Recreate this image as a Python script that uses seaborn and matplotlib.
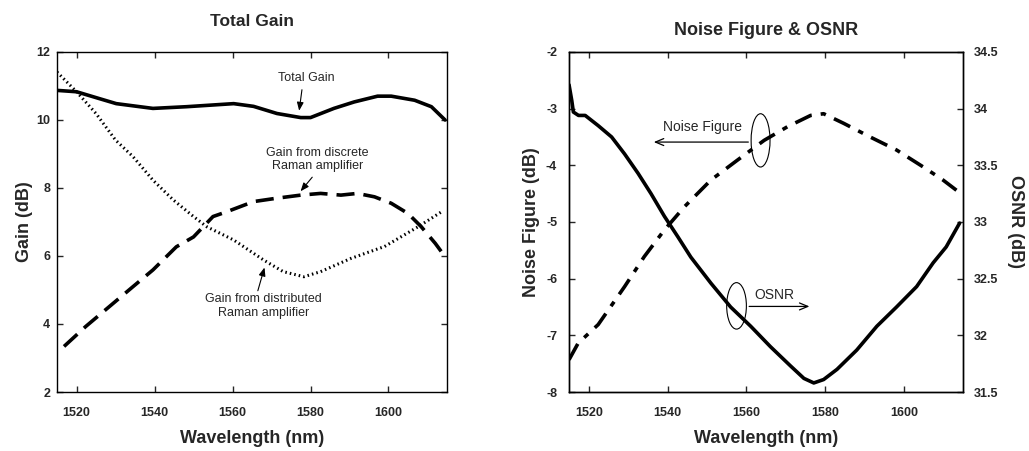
import numpy as np
import pandas as pd
import matplotlib
matplotlib.use("Agg")
import matplotlib.pyplot as plt
from matplotlib.patches import Ellipse
import seaborn as sns

# ---- Total gain panel ----
tg_wl = [1515, 1520, 1525.8, 1530.2, 1539.6, 1548.2, 1560.3, 1565.4, 1571.4,
         1577.5, 1580, 1586, 1591.2, 1597.2, 1600.7, 1606.7, 1611, 1614.5]
tg_gain = [10.87, 10.83, 10.63, 10.48, 10.34, 10.39, 10.48, 10.40, 10.19,
           10.07, 10.07, 10.34, 10.53, 10.70, 10.70, 10.58, 10.39, 10.0]

dist_wl = [1515, 1520, 1525, 1530, 1534.5, 1539.6, 1544.8, 1550, 1553.4, 1560.3,
           1568, 1573, 1578.3, 1582.6, 1590.4, 1599, 1607.6, 1613.6]
dist_gain = [11.41, 10.83, 10.19, 9.41, 8.92, 8.23, 7.65, 7.16, 6.86, 6.47,
             5.88, 5.54, 5.39, 5.54, 5.93, 6.28, 6.86, 7.30]

disc_wl = [1516.8, 1522.4, 1528.4, 1534.5, 1539.6, 1545.6, 1550, 1555, 1558.5,
           1565.4, 1571.4, 1577.5, 1582.6, 1587.8, 1592, 1596.4, 1600.7, 1605,
           1608.4, 1612, 1614.5]
disc_gain = [3.34, 3.93, 4.51, 5.10, 5.59, 6.27, 6.56, 7.16, 7.30, 7.60, 7.70,
             7.79, 7.84, 7.79, 7.84, 7.74, 7.55, 7.25, 6.86, 6.37, 5.98]

# ---- Noise figure & OSNR panel ----
nf_wl = [1515, 1517.3, 1522.4, 1529.1, 1534.1, 1539.2, 1544.3, 1551, 1557.7,
         1564.5, 1570.4, 1576.3, 1579.6, 1584.7, 1591.4, 1598.1, 1604.9, 1609.9,
         1613.3]
nf_db = [-7.43, -7.14, -6.81, -6.14, -5.61, -5.14, -4.73, -4.26, -3.91, -3.56,
         -3.32, -3.12, -3.09, -3.26, -3.50, -3.73, -4.03, -4.26, -4.44]

osnr_wl = [1515, 1515.7, 1516.1, 1517.4, 1519.1, 1522.4, 1525.8, 1529.1, 1532.5,
           1535.8, 1539.2, 1542.6, 1545.9, 1551, 1556, 1561.1, 1566.1, 1571.2,
           1574.6, 1577.1, 1579.6, 1583, 1588, 1593.1, 1598.1, 1603.2, 1607.4,
           1610.7, 1614.1]
osnr_db = [34.21, 34.07, 33.97, 33.94, 33.94, 33.85, 33.75, 33.60, 33.43, 33.25,
           33.05, 32.87, 32.69, 32.46, 32.25, 32.08, 31.90, 31.73, 31.62, 31.58,
           31.61, 31.70, 31.87, 32.08, 32.25, 32.43, 32.64, 32.78, 32.99]

x_ticks = [1520, 1540, 1560, 1580, 1600]
gain_ticks = [2, 4, 6, 8, 10, 12]
nf_ticks = [-8, -7, -6, -5, -4, -3, -2]
osnr_ticks = [31.5, 32, 32.5, 33, 33.5, 34, 34.5]

sns.set_style("ticks")
plt.rcParams["font.family"] = ["Liberation Sans", "DejaVu Sans"]

fig = plt.figure(figsize=(10.29, 4.51), dpi=100)
ax1 = fig.add_axes([0.0554, 0.1308, 0.379, 0.754])
ax2 = fig.add_axes([0.553, 0.1308, 0.383, 0.754])
ax3 = ax2.twinx()

label_font = dict(fontsize=13, fontweight="bold")

# Left panel curves
sns.lineplot(x=tg_wl, y=tg_gain, ax=ax1, color="black", lw=2.6)
sns.lineplot(x=dist_wl, y=dist_gain, ax=ax1, color="black", lw=2.2,
             linestyle=(0, (0.5, 1.0)))
sns.lineplot(x=disc_wl, y=disc_gain, ax=ax1, color="black", lw=2.6,
             linestyle=(0, (5, 2.5)))

ax1.set_xlim(1515, 1615)
ax1.set_ylim(2, 12)
ax1.set_xticks(x_ticks)
ax1.set_yticks(gain_ticks)
ax1.set_xlabel("Wavelength (nm)", labelpad=8, **label_font)
ax1.set_ylabel("Gain (dB)", labelpad=2, **label_font)
ax1.set_title("Total Gain", fontsize=12.5, fontweight="bold", pad=19)

# Callout labels with short pointer arrows
ann_font = dict(fontsize=9, ha="center", va="center")
arrow = dict(arrowstyle="-|>,head_length=0.5,head_width=0.2", color="black", lw=0.8)
ax1.text(1578.8, 11.22, "Total Gain", **ann_font)
ax1.annotate("", xy=(1577, 10.19), xytext=(1577.9, 10.97), arrowprops=arrow)
ax1.text(1581.8, 8.84, "Gain from discrete\nRaman amplifier", **ann_font)
ax1.annotate("", xy=(1577, 7.84), xytext=(1580.9, 8.38), arrowprops=arrow)
ax1.text(1568, 4.53, "Gain from distributed\nRaman amplifier", **ann_font)
ax1.annotate("", xy=(1568.4, 5.74), xytext=(1566.3, 4.9), arrowprops=arrow)

# Right panel curves
sns.lineplot(x=nf_wl, y=nf_db, ax=ax2, color="black", lw=2.6,
             linestyle=(0, (5, 2.5, 1.5, 2.5)))
sns.lineplot(x=osnr_wl, y=osnr_db, ax=ax3, color="black", lw=2.6)

ax2.set_xlim(1515, 1615)
ax2.set_ylim(-8, -2)
ax3.set_ylim(31.5, 34.5)
ax2.set_xticks(x_ticks)
ax2.set_yticks(nf_ticks)
ax2.set_yticklabels([f"{v:g}" for v in nf_ticks])
ax3.set_yticks(osnr_ticks)
ax3.set_yticklabels([f"{v:g}" for v in osnr_ticks])
ax2.set_xlabel("Wavelength (nm)", labelpad=8, **label_font)
ax2.set_ylabel("Noise Figure (dB)", labelpad=4, **label_font)
ax3.set_ylabel("OSNR (dB)", rotation=270, labelpad=18, **label_font)
ax2.set_title("Noise Figure & OSNR", fontsize=13, fontweight="bold", pad=12)

arrow2 = dict(arrowstyle="->,head_length=0.6,head_width=0.25", color="black", lw=0.9)
ax2.text(1548.9, -3.32, "Noise Figure", fontsize=10, ha="center", va="center")
ax2.annotate("", xy=(1535.8, -3.59), xytext=(1561.2, -3.59), arrowprops=arrow2)
ax2.add_patch(Ellipse((1563.6, -3.56), 4.8, 0.94, fill=False, color="black", lw=0.8))
ax2.text(1567, -6.29, "OSNR", fontsize=10, ha="center", va="center")
ax2.annotate("", xy=(1576.7, -6.49), xytext=(1560.0, -6.49), arrowprops=arrow2)
ax2.add_patch(Ellipse((1557.5, -6.48), 5.0, 0.82, fill=False, color="black", lw=0.8))

for ax in (ax1, ax2, ax3):
    for s in ax.spines.values():
        s.set_visible(True)
        s.set_linewidth(1.0)
        s.set_color("black")
    for lbl in ax.get_xticklabels() + ax.get_yticklabels():
        lbl.set_fontsize(9)
        lbl.set_fontweight("bold")

ax1.tick_params(direction="in", length=4, top=True, right=True, width=1)
ax1.tick_params(axis="x", pad=11)
ax1.tick_params(axis="y", pad=5)
ax2.tick_params(direction="in", length=4, top=True, width=1)
ax2.tick_params(axis="x", pad=11)
ax2.tick_params(axis="y", pad=8.5)
ax3.tick_params(direction="in", length=4, width=1, pad=8)

fig.savefig("out.png", dpi=100)
